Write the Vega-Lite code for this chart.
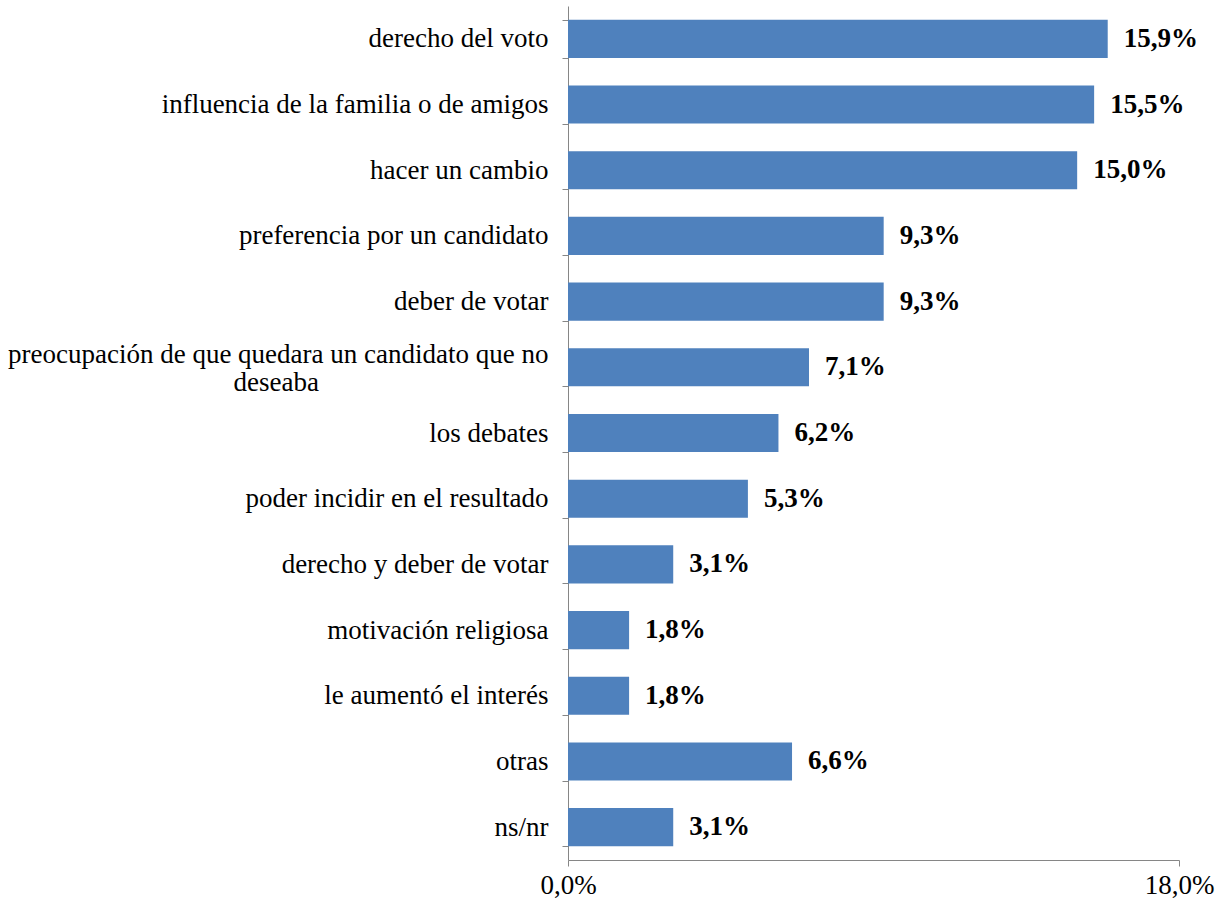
{
  "$schema": "https://vega.github.io/schema/vega-lite/v6.json",
  "autosize": "none",
  "padding": {"left": 568, "top": 6, "right": 42, "bottom": 46},
  "width": 611,
  "height": 854,
  "background": "white",
  "data": {"values": [
    {"cat": "derecho del voto", "v": 15.9},
    {"cat": "influencia de la familia o de amigos", "v": 15.5},
    {"cat": "hacer un cambio", "v": 15.0},
    {"cat": "preferencia por un candidato", "v": 9.3},
    {"cat": "deber de votar", "v": 9.3},
    {"cat": "preocupación de que quedara un candidato que no deseaba", "v": 7.1},
    {"cat": "los debates", "v": 6.2},
    {"cat": "poder incidir en el resultado", "v": 5.3},
    {"cat": "derecho y deber de votar", "v": 3.1},
    {"cat": "motivación religiosa", "v": 1.8},
    {"cat": "le aumentó el interés", "v": 1.8},
    {"cat": "otras", "v": 6.6},
    {"cat": "ns/nr", "v": 3.1}
  ]},
  "transform": [
    {"calculate": "replace(format(datum.v, '.1f'), '.', ',') + '%'", "as": "lbl"}
  ],
  "encoding": {
    "y": {
      "field": "cat", "type": "nominal", "sort": null,
      "scale": {"paddingInner": 0.42, "paddingOuter": 0.21},
      "axis": {
        "title": null,
        "tickBand": "extent",
        "tickSize": 6,
        "tickColor": "#868686",
        "domainColor": "#868686",
        "labelPadding": 14,
        "labelFont": "'Liberation Serif', 'Times New Roman', serif",
        "labelFontSize": 27,
        "labelColor": "#000000",
        "labelLimit": 0,
        "labelLineHeight": 28,
        "labelOffset": {"condition": {"test": "datum.value == 'preocupación de que quedara un candidato que no deseaba'", "value": -13}, "value": 0},
        "labelExpr": "datum.value == 'preocupación de que quedara un candidato que no deseaba' ? ['preocupación de que quedara un candidato que no', 'deseaba\u00a0\u00a0\u00a0\u00a0\u00a0\u00a0\u00a0\u00a0\u00a0\u00a0\u00a0\u00a0\u00a0\u00a0\u00a0\u00a0\u00a0\u00a0\u00a0\u00a0\u00a0\u00a0\u00a0\u00a0\u00a0\u00a0\u00a0\u00a0\u00a0\u00a0\u00a0\u00a0\u00a0\u00a0\u200b'] : datum.value"
      }
    }
  },
  "layer": [
    {
      "mark": {"type": "bar", "color": "#4F81BD"},
      "encoding": {
        "x": {
          "field": "v", "type": "quantitative",
          "scale": {"domain": [0, 18], "nice": false},
          "axis": {
            "title": null,
            "values": [0, 18],
            "grid": false,
            "tickSize": 6,
            "tickColor": "#868686",
            "domainColor": "#868686",
            "labelPadding": 6,
            "labelFont": "'Liberation Serif', 'Times New Roman', serif",
            "labelFontSize": 27,
            "labelColor": "#000000",
            "labelFlush": false,
            "labelExpr": "replace(format(datum.value, '.1f'), '.', ',') + '%'"
          }
        }
      }
    },
    {
      "mark": {"type": "text", "align": "left", "baseline": "middle", "dx": 16, "font": "'Liberation Serif', 'Times New Roman', serif", "fontSize": 27, "fontWeight": "bold", "color": "#000000"},
      "encoding": {
        "x": {"field": "v", "type": "quantitative"},
        "text": {"field": "lbl", "type": "nominal"}
      }
    }
  ],
  "config": {"view": {"stroke": null}}
}
